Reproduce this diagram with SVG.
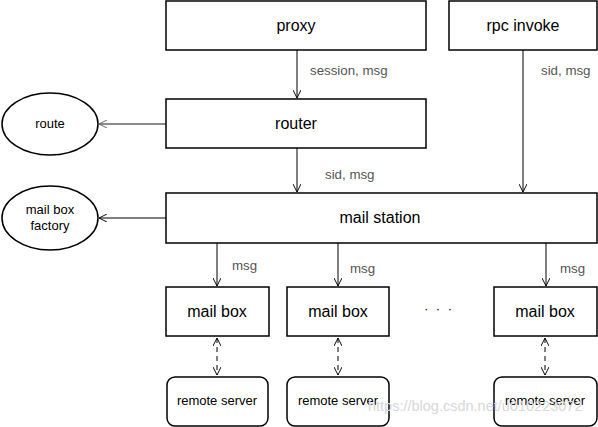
<svg xmlns="http://www.w3.org/2000/svg" width="598" height="427" viewBox="0 0 598 427">
<style>
.box{fill:#fff;stroke:#000;stroke-width:1.5}
.t{font-family:"Liberation Sans",Arial,sans-serif;font-size:16px;fill:#000;text-anchor:middle}
.s{font-family:"Liberation Sans",Arial,sans-serif;font-size:13px;fill:#000;text-anchor:middle}
.lbl{font-family:"Liberation Sans",Arial,sans-serif;font-size:13.3px;fill:#555}
.c{fill:none;stroke:#000;stroke-width:1}
.d{fill:none;stroke:#000;stroke-width:1;stroke-dasharray:5,4}
</style>
<defs>
<marker id="a" viewBox="0 0 10 10" refX="10" refY="5" markerWidth="8" markerHeight="8" markerUnits="userSpaceOnUse" orient="auto-start-reverse">
<path d="M0,0 L10,5 L0,10" fill="none" stroke="#000" stroke-width="1.2"/>
</marker>
<marker id="ag" viewBox="0 0 10 10" refX="10" refY="5" markerWidth="8" markerHeight="8" markerUnits="userSpaceOnUse" orient="auto">
<path d="M0,0 L10,5 L0,10" fill="none" stroke="#666" stroke-width="1.2"/>
</marker>
</defs>
<rect width="598" height="427" fill="#fff"/>
<g id="connectors">
<line class="c" x1="297" y1="50" x2="297" y2="98" marker-end="url(#a)"/>
<line class="c" x1="523" y1="50" x2="523" y2="192" marker-end="url(#a)"/>
<line class="c" x1="297" y1="148" x2="297" y2="192" marker-end="url(#a)"/>
<line x1="166" y1="124" x2="99" y2="124" stroke="#666" stroke-width="1.5" marker-end="url(#ag)"/>
<line class="c" x1="166" y1="218" x2="99" y2="218" marker-end="url(#a)"/>
<line class="c" x1="217" y1="243" x2="217" y2="286" marker-end="url(#a)"/>
<line class="c" x1="338" y1="243" x2="338" y2="286" marker-end="url(#a)"/>
<line class="c" x1="546" y1="243" x2="546" y2="286" marker-end="url(#a)"/>
<line class="d" x1="217" y1="338" x2="217" y2="375" marker-start="url(#a)" marker-end="url(#a)"/>
<line class="d" x1="338" y1="338" x2="338" y2="375" marker-start="url(#a)" marker-end="url(#a)"/>
<line class="d" x1="545" y1="338" x2="545" y2="375" marker-start="url(#a)" marker-end="url(#a)"/>
<text class="lbl" x="310" y="75">session, msg</text>
<text class="lbl" x="541" y="75">sid, msg</text>
<text class="lbl" x="325" y="179">sid, msg</text>
<text class="lbl" x="232" y="270">msg</text>
<text class="lbl" x="350" y="273">msg</text>
<text class="lbl" x="560" y="273">msg</text>
</g>
<g id="proxy"><rect class="box" x="166" y="1" width="260" height="49"/><text class="t" x="296" y="31">proxy</text></g>
<g id="rpc-invoke"><rect class="box" x="449" y="1" width="148" height="49"/><text class="t" x="523" y="31">rpc invoke</text></g>
<g id="router"><rect class="box" x="166" y="99" width="260" height="49"/><text class="t" x="296" y="129">router</text></g>
<g id="route"><ellipse class="box" cx="50" cy="124" rx="48" ry="31"/><text class="s" x="50" y="128">route</text></g>
<g id="mail-station"><rect class="box" x="166" y="193" width="431" height="50"/><text class="t" x="380" y="223">mail station</text></g>
<g id="mail-box-factory"><ellipse class="box" cx="50" cy="218" rx="48" ry="32"/><text class="s" x="50" y="214">mail box</text><text class="s" x="50" y="230">factory</text></g>
<g id="mail-box-1"><rect class="box" x="166" y="287" width="103" height="49"/><text class="t" x="217" y="317">mail box</text></g>
<g id="mail-box-2"><rect class="box" x="287" y="287" width="102" height="49"/><text class="t" x="338" y="317">mail box</text></g>
<g id="mail-box-3"><rect class="box" x="494" y="287" width="103" height="49"/><text class="t" x="545" y="317">mail box</text></g>
<g id="dots"><text class="s" x="439" y="313" fill="#444" letter-spacing="2">· · ·</text></g>
<g id="remote-server-1"><rect class="box" x="167" y="377" width="101" height="49" rx="8"/><text class="s" x="217" y="405">remote server</text></g>
<g id="remote-server-2"><rect class="box" x="287" y="377" width="102" height="49" rx="8"/><text class="s" x="338" y="405">remote server</text></g>
<g id="remote-server-3"><rect class="box" x="494" y="377" width="103" height="49" rx="8"/><text class="s" x="545" y="405">remote server</text></g>
<text x="368" y="411" font-family="'Liberation Sans',Arial,sans-serif" font-size="14.5" fill="#d8d8d8">https://blog.csdn.net/u010223072</text>
</svg>
